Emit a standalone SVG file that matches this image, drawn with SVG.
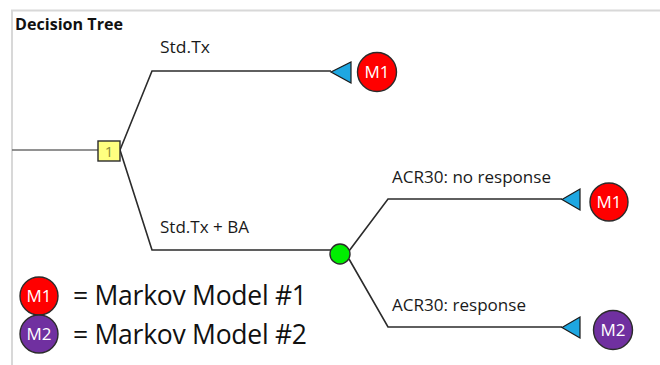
<svg xmlns="http://www.w3.org/2000/svg" width="660" height="365" viewBox="0 0 660 365">
  <style>
    .frame { fill: none; stroke: #d8d8d8; stroke-width: 2; }
    .edge { fill: none; stroke: #2b2b2b; stroke-width: 1.6; stroke-linejoin: miter; }
    .root { fill: none; stroke: #6e6e6e; stroke-width: 1.6; }
    .lbl { font-family: "Open Sans", "Liberation Sans", sans-serif; font-size: 15.5px; fill: #1a1a1a; }
    .title { font-family: "Open Sans", "Liberation Sans", sans-serif; font-size: 15.5px; font-weight: bold; fill: #111; }
    .legend { font-family: "Open Sans", "Liberation Sans", sans-serif; font-size: 26.5px; fill: #111; }
    .term { fill: #1ea7e1; stroke: #1a1a1a; stroke-width: 1.2; stroke-linejoin: miter; }
    .m1 { fill: #ff0000; stroke: #2b2b2b; stroke-width: 1.4; }
    .m2 { fill: #7030a0; stroke: #2b2b2b; stroke-width: 1.4; }
    .mtxt { font-family: "Open Sans", "Liberation Sans", sans-serif; font-size: 17px; fill: #fff; text-anchor: middle; }
  </style>

  <rect width="660" height="365" fill="#ffffff"/>
  <path class="frame" d="M12,365 V10.5 H660"/>
  <text class="title" x="15" y="30" textLength="108" lengthAdjust="spacingAndGlyphs">Decision Tree</text>

  <!-- connectors -->
  <g id="connectors">
    <path class="root" d="M12,150 H98"/>
    <path class="edge" d="M120,150 L152,71 H331"/>
    <path class="edge" d="M120,150 L152,250 H331"/>
    <path class="edge" d="M349,251 L388,199 H562"/>
    <path class="edge" d="M349,259 L388,327 H562"/>
  </g>

  <!-- branch labels -->
  <g id="labels">
    <text class="lbl" x="160" y="53" textLength="50" lengthAdjust="spacingAndGlyphs">Std.Tx</text>
    <text class="lbl" x="160" y="233" textLength="89" lengthAdjust="spacingAndGlyphs">Std.Tx + BA</text>
    <text class="lbl" x="392" y="183" textLength="159" lengthAdjust="spacingAndGlyphs">ACR30: no response</text>
    <text class="lbl" x="392" y="311" textLength="134" lengthAdjust="spacingAndGlyphs">ACR30: response</text>
  </g>

  <!-- decision node -->
  <g id="decision">
    <rect x="98" y="141" width="22" height="20" fill="#ffff80" stroke="#2b2b2b" stroke-width="1.4"/>
    <text x="109" y="157" text-anchor="middle" font-family="Open Sans, Liberation Sans, sans-serif" font-size="15" fill="#8a8a3a">1</text>
  </g>

  <!-- chance node -->
  <g id="chance">
    <circle cx="340" cy="254" r="10" fill="#00ee00" stroke="#2b2b2b" stroke-width="1.4"/>
  </g>

  <!-- terminal: Std.Tx -> M1 -->
  <g id="term-stdtx">
    <polygon class="term" points="331,72 351,62 351,83"/>
    <circle class="m1" cx="377" cy="72" r="19.5"/>
    <text class="mtxt" x="377" y="78">M1</text>
  </g>

  <!-- terminal: no response -> M1 -->
  <g id="term-noresp">
    <polygon class="term" points="562,199.5 580,189 580,210"/>
    <circle class="m1" cx="609" cy="202" r="19"/>
    <text class="mtxt" x="609" y="208">M1</text>
  </g>

  <!-- terminal: response -> M2 -->
  <g id="term-resp">
    <polygon class="term" points="562,327.5 580,317 580,338"/>
    <circle class="m2" cx="613" cy="330" r="19.5"/>
    <text class="mtxt" x="613" y="336">M2</text>
  </g>

  <!-- legend -->
  <g id="legend-m1">
    <circle class="m1" cx="39" cy="296" r="19"/>
    <text class="mtxt" x="39" y="302">M1</text>
    <text class="legend" x="73" y="305" textLength="234">= Markov Model #1</text>
  </g>
  <g id="legend-m2">
    <circle class="m2" cx="39" cy="334" r="19"/>
    <text class="mtxt" x="39" y="340">M2</text>
    <text class="legend" x="73" y="344" textLength="234">= Markov Model #2</text>
  </g>
</svg>
